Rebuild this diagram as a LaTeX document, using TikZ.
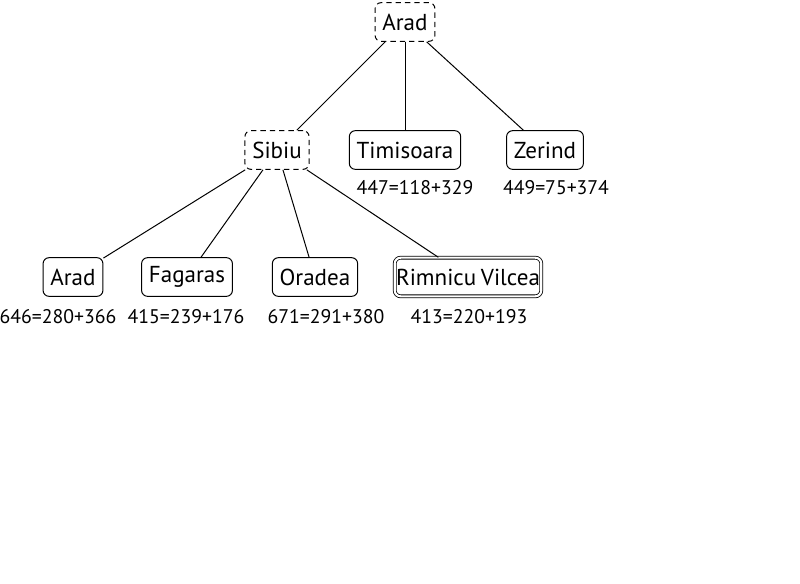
\documentclass[tikz,border=0pt]{standalone}
\usepackage{fontspec}
\setmainfont{PT Sans}
\begin{document}
\begin{tikzpicture}[x=0.75pt,y=-0.75pt,
  city/.style={draw, rounded corners=4.5pt, font=\fontsize{17.3}{20}\selectfont, inner xsep=5.5pt, minimum height=29pt, line width=0.75pt},
  open/.style={city, dashed, dash pattern=on 4pt off 3pt},
  goal/.style={city, double, double distance=1.6pt, line width=0.6pt, inner xsep=1pt},
  cost/.style={font=\fontsize{14.8}{17}\selectfont, inner sep=0pt},
  edge/.style={line width=0.75pt}]
\useasboundingbox (0,0) rectangle (800,583);
\node[open] (root) at (405,22) {Arad};
\node[open] (sib) at (277,150) {Sibiu};
\node[city] (tim) at (405,150) {Timisoara};
\node[city] (zer) at (545,150) {Zerind};
\node[city] (ara) at (73,277) {Arad};
\node[city] (fag) at (187,277) {Fagaras};
\node[city] (ora) at (315,277) {Oradea};
\node[goal] (rim) at (468,277) {Rimnicu\hspace{0.2em}Vilcea};
\node[cost] (ctim) at (415,188) {447=118+329};
\node[cost] (czer) at (556,188) {449=75+374};
\node[cost] (cara) at (58,317) {646=280+366};
\node[cost] (cfag) at (186,317) {415=239+176};
\node[cost] (cora) at (326,317) {671=291+380};
\node[cost] (crim) at (469,317) {413=220+193};
\draw[edge] (root) -- (sib);
\draw[edge] (root) -- (tim);
\draw[edge] (root) -- (zer);
\draw[edge] (sib) -- (ara);
\draw[edge] (sib) -- (fag);
\draw[edge] (sib) -- (ora);
\draw[edge] (sib) -- (rim);
\end{tikzpicture}
\end{document}
